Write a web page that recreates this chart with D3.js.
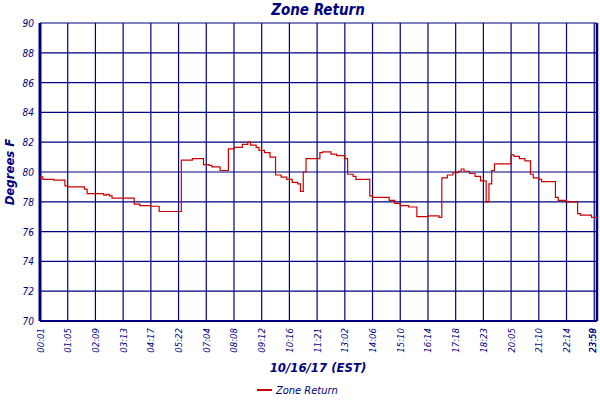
<!DOCTYPE html>
<html><head><meta charset="utf-8">
<script src="https://cdn.jsdelivr.net/npm/d3@7"></script>
<style>body{margin:0;background:#fff}text{font-family:"DejaVu Sans Condensed","DejaVu Sans",sans-serif;font-style:italic;fill:#000080}</style>
</head><body><svg id="c" width="600" height="400"></svg>
<script>
// sample index where the reading changes, and the reading (deg F)
var idx = [0,1,5,9,10,16,17,23,24,25,26,34,36,40,43,50,51,55,59,61,62,65,68,70,73,75,76,78,79,81,83,85,87,89,91,93,94,95,96,101,102,105,107,110,111,113,114,119,120,126,128,130,133,136,140,144,145,147,149,151,152,153,155,157,159,161,162,163,164,170,171,173,175,177,178,180,181,186,187,190,194,195,199,201];
var val = [79.67,79.5,79.45,79.07,79.0,78.85,78.55,78.45,78.5,78.4,78.25,77.85,77.75,77.7,77.35,77.35,80.8,80.9,80.5,80.45,80.35,80.1,81.55,81.65,81.85,82.0,81.8,81.65,81.45,81.3,81.0,79.8,79.65,79.5,79.3,79.2,78.7,80.0,80.9,81.3,81.35,81.2,81.1,80.9,79.85,79.7,79.5,78.4,78.3,78.1,77.9,77.75,77.65,77.0,77.05,76.95,79.6,79.8,79.95,80.05,80.2,80.05,79.9,79.7,79.4,78.0,79.2,80.1,80.55,81.15,81.05,80.9,80.75,79.85,79.6,79.5,79.35,78.3,78.1,78.0,77.2,77.1,76.95,76.9];
var tickIdx = [0,10,20,30,40,50,60,70,80,90,100,110,120,130,140,150,160,170,180,190,200,201];
var tickLab = ["00:01","01:05","02:09","03:13","04:17","05:22","07:04","08:08","09:12","10:16","11:21","13:02","14:06","15:10","16:14","17:18","18:23","20:05","21:10","22:14","23:58","23:59"];
var yTicks = [70,72,74,76,78,80,82,84,86,88,90];

var navy = "#000080", red = "#cc0000";
var svg = d3.select("#c");
var L = 40, R = 597, T = 23, B = 321;
var x = d3.scaleLinear().domain([0,201]).range([L,R]);
var y = d3.scaleLinear().domain([70,90]).range([B,T]);

svg.append("g").selectAll("line").data(yTicks).join("line")
  .attr("x1",L).attr("x2",R).attr("y1",d=>y(d)).attr("y2",d=>y(d))
  .attr("stroke",navy).attr("stroke-width",1.2);
svg.append("g").selectAll("line").data(tickIdx).join("line")
  .attr("x1",d=>x(d)).attr("x2",d=>x(d)).attr("y1",T).attr("y2",B)
  .attr("stroke",navy).attr("stroke-width",(d,i)=>i==0?3:1.2);
svg.append("line").attr("x1",R).attr("x2",R).attr("y1",T).attr("y2",B).attr("stroke",navy).attr("stroke-width",2.5);
svg.append("line").attr("x1",L).attr("x2",R).attr("y1",B).attr("y2",B).attr("stroke",navy).attr("stroke-width",2);

svg.append("g").selectAll("text").data(yTicks).join("text")
  .attr("x",L-6).attr("y",d=>y(d)+4).attr("text-anchor","end")
  .attr("font-size",10).text(d=>d);
svg.append("g").selectAll("text").data(tickIdx).join("text")
  .attr("transform",d=>"translate("+Math.min(x(d)+3.5,596)+",328) rotate(-90)")
  .attr("text-anchor","end").attr("font-size",9.5)
  .text((d,i)=>tickLab[i]);

var pts = idx.map((d,i)=>[d,val[i]]);
svg.append("path").attr("d",d3.line().x(d=>x(d[0])).y(d=>y(d[1])).curve(d3.curveStepAfter)(pts))
  .attr("fill","none").attr("stroke",red).attr("stroke-width",1.2);

svg.append("text").attr("x",318).attr("y",15).attr("text-anchor","middle")
  .attr("font-size",15).attr("font-weight","bold").text("Zone Return");
svg.append("text").attr("transform","translate(14,172) rotate(-90)").attr("text-anchor","middle")
  .attr("font-size",13).attr("font-weight","bold").text("Degrees F");
svg.append("text").attr("x",318).attr("y",372).attr("text-anchor","middle")
  .attr("font-size",13).attr("font-weight","bold").text("10/16/17 (EST)");
svg.append("line").attr("x1",257).attr("x2",272).attr("y1",390).attr("y2",390).attr("stroke",red).attr("stroke-width",2);
svg.append("text").attr("x",276).attr("y",394).attr("font-size",11).text("Zone Return");
</script></body></html>
